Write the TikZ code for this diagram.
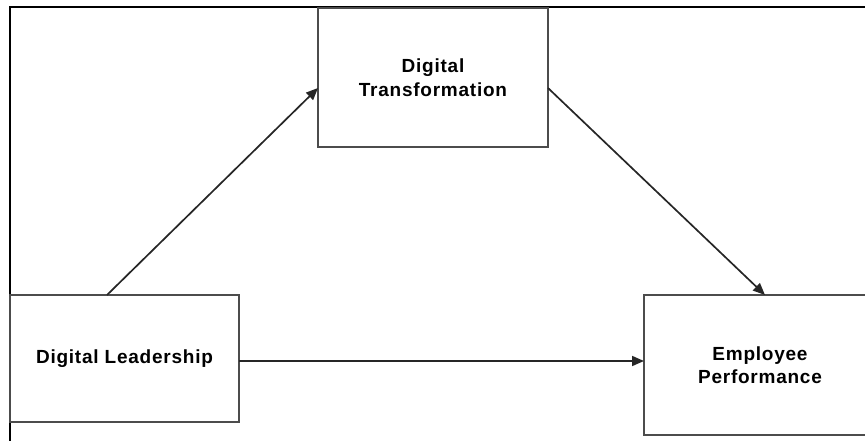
\documentclass[tikz,border=0pt]{standalone}
\usepackage{fontspec}
\newfontfamily\boxfont{Liberation Sans}[LetterSpace=4]
\usetikzlibrary{arrows.meta}
\tikzset{
  box/.style={draw=black!70, line width=2pt, rectangle, inner sep=0pt, outer sep=0pt,
    align=center, font=\boxfont\bfseries\fontsize{19}{23.5}\selectfont},
  link/.style={draw=black!85, line width=1.7pt, -{Triangle[length=12pt,width=10pt]}},
  frame/.style={draw=black, line width=2pt}
}
\begin{document}
\begin{tikzpicture}[x=1pt,y=-1pt]
  \useasboundingbox (0,0) rectangle (865,441);
  % page frame (only top and left sides fall inside the view)
  \draw[frame] (10,445) -- (10,7) -- (870,7);
  % variables
  \node[box, minimum width=229pt, minimum height=127pt] (dl) at (124.5,358.5) {Digital Leadership};
  \node[box, minimum width=230pt, minimum height=139pt] (dt) at (433,77.5) {Digital\\Transformation};
  \node[box, minimum width=232pt, minimum height=140pt] (ep) at (760,365) {Employee\\Performance};
  % paths
  \draw[link] ([xshift=-17.5pt]dl.north) -- ([yshift=-10.5pt]dt.west);
  \draw[link] ([yshift=-10.5pt]dt.east) -- ([xshift=5pt]ep.north);
  \draw[link] ([yshift=-2.5pt]dl.east) -- ([yshift=4pt]ep.west);
\end{tikzpicture}
\end{document}
